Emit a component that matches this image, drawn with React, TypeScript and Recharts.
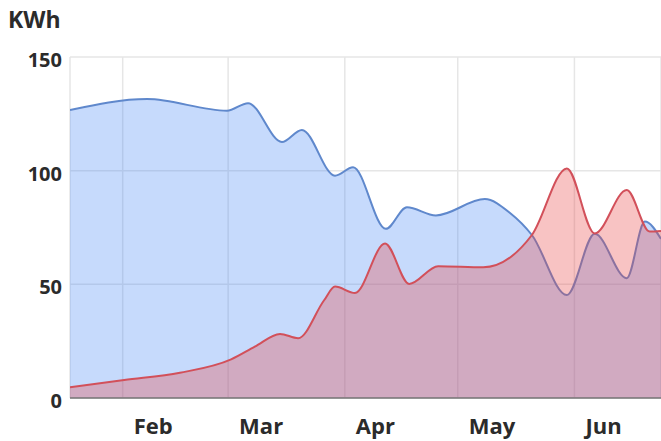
import React from 'react';
import { ComposedChart, Area, XAxis, YAxis, CartesianGrid } from 'recharts';

// Day-of-year (Jan 1 = 0) and kWh values
const blueDays = [17, 37.5, 58.7, 64.3, 73.3, 78.6, 87.4, 92.2, 100.9, 106.5, 114.2, 127.2, 133.9, 139.7, 149, 156.4, 164.9, 169.7, 174];
const blueKwh = [126.7, 131.5, 126.4, 129.7, 112.6, 117.9, 97.8, 101.5, 74.4, 83.9, 80.3, 87.5, 81.4, 71.7, 45.3, 72.2, 52.7, 77.6, 70];

const redDays = [17, 31.4, 46.2, 59.8, 66.1, 72.8, 77.6, 84.5, 87.4, 92.7, 100.7, 107.1, 114.8, 126.8, 139.7, 149, 156.4, 164.9, 171, 174];
const redKwh = [4.7, 7.9, 11.1, 17, 22.6, 28.2, 26.3, 43, 49, 46.2, 68, 50.2, 58, 57.5, 71.7, 101, 72.4, 91.5, 73.2, 73.5];

const monthTicks = [31, 59, 90, 120, 151];
const monthLabels = ['Feb', 'Mar', 'Apr', 'May', 'Jun'];
const yTicks = [0, 50, 100, 150];
const unitLabel = 'KWh';

type Row = { day: number; blue?: number; red?: number };
const buildTable = (): Row[] => {
  const map = new Map<number, Row>();
  blueDays.forEach((d, i) => {
    const r = map.get(d) || { day: d };
    r.blue = blueKwh[i];
    map.set(d, r);
  });
  redDays.forEach((d, i) => {
    const r = map.get(d) || { day: d };
    r.red = redKwh[i];
    map.set(d, r);
  });
  return Array.from(map.values()).sort((a, b) => a.day - b.day);
};
const table = buildTable();

const FONT = '"Open Sans", sans-serif';

const XTick = (props: any) => {
  const { x, y, payload } = props;
  const idx = monthTicks.indexOf(payload.value);
  return (
    <text x={x + 11} y={y + 28} textAnchor="start" fontFamily={FONT} fontWeight={700} fontSize={22} fill="#2b2b2b">
      {idx >= 0 ? monthLabels[idx] : ''}
    </text>
  );
};

const YTick = (props: any) => {
  const { y, payload } = props;
  return (
    <text x={62} y={y + 10} textAnchor="end" fontFamily={FONT} fontWeight={700} fontSize={20} fill="#2b2b2b">
      {payload.value}
    </text>
  );
};

export default function App() {
  return (
    <div style={{ position: 'absolute', left: 0, top: 0, width: 661, height: 441, background: '#fff' }}>
      <div
        style={{
          position: 'absolute',
          left: 8,
          top: 5,
          fontFamily: FONT,
          fontWeight: 700,
          fontSize: 23,
          lineHeight: '28px',
          color: '#2b2b2b',
        }}
      >
        {unitLabel}
      </div>
      <ComposedChart width={661} height={441} data={table} margin={{ top: 57, right: 0, bottom: 0, left: 0 }}>
        <CartesianGrid stroke="#e6e6e6" strokeWidth={1.5} />
        <XAxis
          dataKey="day"
          type="number"
          domain={[17, 174]}
          ticks={monthTicks}
          allowDataOverflow
          height={43}
          tickLine={false}
          axisLine={{ stroke: '#777', strokeWidth: 1.5 }}
          tick={<XTick />}
          interval={0}
        />
        <YAxis
          type="number"
          domain={[0, 150]}
          ticks={yTicks}
          width={70}
          tickLine={false}
          axisLine={false}
          tick={<YTick />}
          interval={0}
        />
        <Area
          dataKey="blue"
          type="monotone"
          connectNulls
          stroke="#5f88cc"
          strokeWidth={2}
          fill="#4285f4"
          fillOpacity={0.3}
          isAnimationActive={false}
          dot={false}
          activeDot={false}
        />
        <Area
          dataKey="red"
          type="monotone"
          connectNulls
          stroke="#d2505a"
          strokeWidth={2}
          fill="rgb(233,68,68)"
          fillOpacity={0.32}
          isAnimationActive={false}
          dot={false}
          activeDot={false}
        />
      </ComposedChart>
    </div>
  );
}
